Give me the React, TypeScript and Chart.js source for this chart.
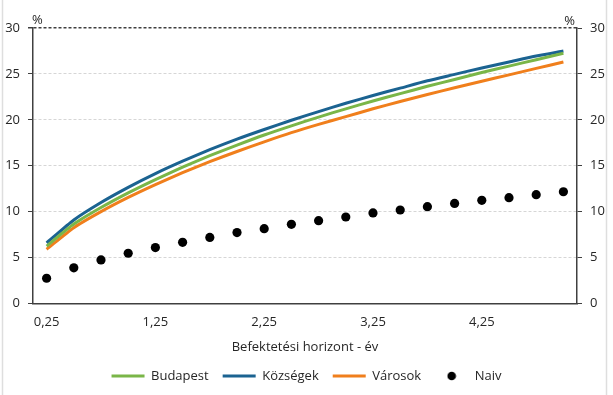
import React, { useEffect, useRef } from 'react';
import { Chart, registerables } from 'chart.js';

Chart.register(...registerables);

const horizons = ['0,25', '0,5', '0,75', '1', '1,25', '1,5', '1,75', '2', '2,25', '2,5', '2,75', '3', '3,25', '3,5', '3,75', '4', '4,25', '4,5', '4,75', '5'];
const shownTicks = ['0,25', '1,25', '2,25', '3,25', '4,25'];

const budapest = [6.25, 8.65, 10.45, 12.05, 13.5, 14.85, 16.1, 17.25, 18.35, 19.35, 20.3, 21.2, 22.05, 22.85, 23.65, 24.4, 25.15, 25.85, 26.55, 27.25];
const kozsegek = [6.6, 9.1, 11.0, 12.65, 14.15, 15.5, 16.75, 17.9, 18.95, 19.95, 20.9, 21.8, 22.65, 23.45, 24.25, 24.95, 25.65, 26.3, 26.95, 27.5];
const varosok = [5.9, 8.25, 10.0, 11.55, 12.95, 14.25, 15.45, 16.55, 17.6, 18.6, 19.5, 20.35, 21.2, 22.0, 22.75, 23.5, 24.2, 24.9, 25.6, 26.3];
const naiv = [2.75, 3.88, 4.75, 5.47, 6.09, 6.66, 7.2, 7.72, 8.15, 8.62, 9.02, 9.42, 9.86, 10.18, 10.54, 10.9, 11.23, 11.52, 11.85, 12.17];

const seriesNames = ['Budapest', 'Községek', 'Városok', 'Naiv'];
const xTitle = 'Befektetési horizont - év';
const unitLabel = '%';

const FONT = '"Open Sans"';
const TEXT = '#262626';
const AXIS = '#404040';

export default function App() {
  const ref = useRef<HTMLCanvasElement | null>(null);

  useEffect(() => {
    if (!ref.current) return;

    const dot = document.createElement('canvas');
    dot.width = 10;
    dot.height = 10;
    const dctx = dot.getContext('2d')!;
    dctx.fillStyle = '#000';
    dctx.beginPath();
    dctx.arc(5, 5, 4.3, 0, Math.PI * 2);
    dctx.fill();

    const extras = {
      id: 'extras',
      afterDraw(chart: any) {
        const { ctx, chartArea } = chart;
        ctx.save();
        ctx.font = `13px ${FONT}`;
        ctx.fillStyle = TEXT;
        ctx.textBaseline = 'middle';
        ctx.textAlign = 'left';
        ctx.fillText(unitLabel, chartArea.left - 1, chartArea.top - 8);
        ctx.textAlign = 'right';
        ctx.fillText(unitLabel, chartArea.right - 2, chartArea.top - 7);
        ctx.strokeStyle = '#dedede';
        ctx.lineWidth = 1.5;
        ctx.beginPath();
        ctx.moveTo(2.5, 0);
        ctx.lineTo(2.5, chart.height);
        ctx.moveTo(606.5, 0);
        ctx.lineTo(606.5, chart.height);
        ctx.stroke();
        ctx.restore();
      },
    };

    const chart = new Chart(ref.current, {
      type: 'line',
      data: {
        labels: horizons,
        datasets: [
          { label: seriesNames[0], data: budapest, borderColor: '#7ab648', backgroundColor: '#7ab648', borderWidth: 3, pointRadius: 0, tension: 0.2, yAxisID: 'y' },
          { label: seriesNames[1], data: kozsegek, borderColor: '#1b6391', backgroundColor: '#1b6391', borderWidth: 3, pointRadius: 0, tension: 0.2, yAxisID: 'y' },
          { label: seriesNames[2], data: varosok, borderColor: '#f07f1c', backgroundColor: '#f07f1c', borderWidth: 3, pointRadius: 0, tension: 0.2, yAxisID: 'y' },
          { label: seriesNames[3], data: naiv, borderColor: '#000', backgroundColor: '#000', showLine: false, pointRadius: 4.6, pointBorderWidth: 0, pointBackgroundColor: '#000', yAxisID: 'y' },
        ],
      },
      options: {
        responsive: false,
        animation: false,
        events: [],
        layout: { padding: { top: 28, left: 0, right: 0, bottom: 2.5 } },
        scales: {
          x: {
            type: 'category',
            offset: true,
            grid: { display: false, drawTicks: false },
            border: { display: true, color: AXIS, width: 1.5 },
            ticks: {
              autoSkip: false,
              maxRotation: 0,
              padding: 11,
              color: TEXT,
              font: { family: FONT, size: 13 },
              callback: (_v: any, i: number) => (shownTicks.includes(horizons[i]) ? horizons[i] : ''),
            },
            title: { display: true, text: xTitle, color: TEXT, font: { family: FONT, size: 13 }, padding: { top: 0, bottom: 0 } },
            afterFit: (s: any) => { s.height = 52; },
          },
          y: {
            position: 'left',
            min: 0,
            max: 30,
            ticks: { stepSize: 5, padding: 8, color: TEXT, font: { family: FONT, size: 13 } },
            grid: {
              color: (c: any) => (c.tick && c.tick.value === 30 ? AXIS : '#d6d6d6'),
              lineWidth: (c: any) => (c.tick && c.tick.value === 30 ? 1.5 : 1),
              tickColor: AXIS,
              tickLength: 5,
              tickBorderDash: [],
            },
            border: { display: true, color: AXIS, width: 1.5, dash: [3, 2] },
            afterFit: (s: any) => { s.width = 33; },
          },
          y2: {
            position: 'right',
            min: 0,
            max: 30,
            ticks: { stepSize: 5, padding: 8, color: TEXT, font: { family: FONT, size: 13 } },
            grid: { drawOnChartArea: false, tickColor: AXIS, tickLength: 5 },
            border: { display: true, color: AXIS, width: 1.5 },
            afterFit: (s: any) => { s.width = 36; },
          },
        },
        plugins: {
          tooltip: { enabled: false },
          legend: {
            position: 'bottom',
            labels: {
              usePointStyle: true,
              pointStyleWidth: 33,
              padding: 14,
              color: TEXT,
              font: { family: FONT, size: 13 },
              generateLabels: (ch: any) => {
                const items = (Chart.defaults.plugins.legend.labels as any).generateLabels(ch);
                return items.map((it: any, i: number) => (i === 3 ? { ...it, pointStyle: dot, lineWidth: 0 } : { ...it, pointStyle: 'line' }));
              },
            },
          },
        },
      },
      plugins: [extras],
    } as any);

    return () => chart.destroy();
  }, []);

  return (
    <div style={{ position: 'absolute', left: 0, top: 0, width: 613, height: 395, background: '#fff' }}>
      <canvas ref={ref} width={613} height={395} style={{ display: 'block' }} />
    </div>
  );
}
